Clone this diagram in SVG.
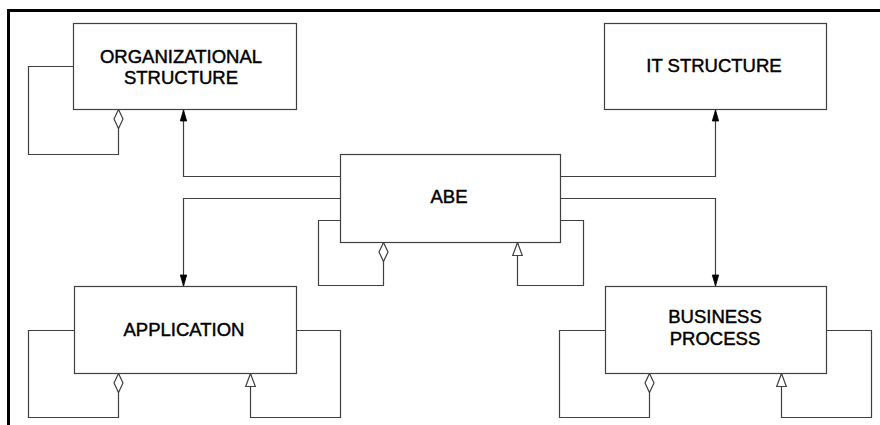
<svg xmlns="http://www.w3.org/2000/svg" width="880" height="425" viewBox="0 0 880 425">
  <style>
    .box { fill: #ffffff; stroke: #404040; stroke-width: 1.2; }
    .lbl { font-family: "Liberation Sans", Arial, sans-serif; font-size: 18.5px; fill: #000000; stroke: #000000; stroke-width: 0.45; text-anchor: middle; }
    .wire { fill: none; stroke: #404040; stroke-width: 1.2; }
    .frame { fill: none; stroke: #000000; stroke-width: 3; }
  </style>
  <defs>
    <!-- filled navigation arrow -->
    <marker id="arrow" markerUnits="userSpaceOnUse" viewBox="-12 -4 13 8" refX="0" refY="0" markerWidth="13" markerHeight="8" orient="auto" overflow="visible">
      <path d="M0,0 L-11,-3.2 L-11,3.2 Z" fill="#000000" stroke="#000000" stroke-width="0.8"/>
    </marker>
    <!-- hollow aggregation diamond -->
    <marker id="diamond" markerUnits="userSpaceOnUse" viewBox="-20 -6 21 12" refX="0" refY="0" markerWidth="21" markerHeight="12" orient="auto" overflow="visible">
      <path d="M0,0 L-9.5,-4.5 L-19,0 L-9.5,4.5 Z" fill="#ffffff" stroke="#404040" stroke-width="1.2"/>
    </marker>
    <!-- hollow generalization triangle -->
    <marker id="tri" markerUnits="userSpaceOnUse" viewBox="-14 -6 15 12" refX="0" refY="0" markerWidth="15" markerHeight="12" orient="auto" overflow="visible">
      <path d="M0,0 L-13,-4.8 L-13,4.8 Z" fill="#ffffff" stroke="#404040" stroke-width="1.2"/>
    </marker>
  </defs>

  <!-- page frame -->
  <path class="frame" d="M8.5,425 V10.5 H880"/>

  <g id="connectors">
    <!-- ABE to the four neighbours -->
    <path class="wire" d="M340,176.5 H183.5 V110" marker-end="url(#arrow)"/>
    <path class="wire" d="M340,198.5 H183.5 V286" marker-end="url(#arrow)"/>
    <path class="wire" d="M560,176.5 H715.5 V110" marker-end="url(#arrow)"/>
    <path class="wire" d="M560,198.5 H715.5 V286" marker-end="url(#arrow)"/>

    <!-- self associations -->
    <path class="wire" d="M73,66.5 H28.5 V154.5 H118.5 V109.5" marker-end="url(#diamond)"/>
    <path class="wire" d="M340,220.5 H318.5 V285.5 H383.5 V242.5" marker-end="url(#diamond)"/>
    <path class="wire" d="M560,220.5 H583.5 V285.5 H517.5 V242.5" marker-end="url(#tri)"/>
    <path class="wire" d="M74,330.5 H28.5 V417.5 H118.5 V373.5" marker-end="url(#diamond)"/>
    <path class="wire" d="M296,330.5 H340.5 V417.5 H250.5 V373.5" marker-end="url(#tri)"/>
    <path class="wire" d="M605,330.5 H559.5 V417.5 H649.5 V373.5" marker-end="url(#diamond)"/>
    <path class="wire" d="M826,330.5 H871.5 V417.5 H781.5 V373.5" marker-end="url(#tri)"/>
  </g>

  <g id="org-structure">
    <rect class="box" x="73.5" y="23.5" width="223" height="86"/>
    <text class="lbl" x="181" y="63">ORGANIZATIONAL</text>
    <text class="lbl" x="181" y="84">STRUCTURE</text>
  </g>

  <g id="it-structure">
    <rect class="box" x="604.5" y="23.5" width="222" height="86"/>
    <text class="lbl" x="714" y="72">IT STRUCTURE</text>
  </g>

  <g id="abe">
    <rect class="box" x="340.5" y="154.5" width="220" height="88"/>
    <text class="lbl" x="449" y="203">ABE</text>
  </g>

  <g id="application">
    <rect class="box" x="74.5" y="286.5" width="222" height="87"/>
    <text class="lbl" x="184" y="336">APPLICATION</text>
  </g>

  <g id="business-process">
    <rect class="box" x="605.5" y="286.5" width="221" height="87"/>
    <text class="lbl" x="715" y="323">BUSINESS</text>
    <text class="lbl" x="715" y="345">PROCESS</text>
  </g>
</svg>
